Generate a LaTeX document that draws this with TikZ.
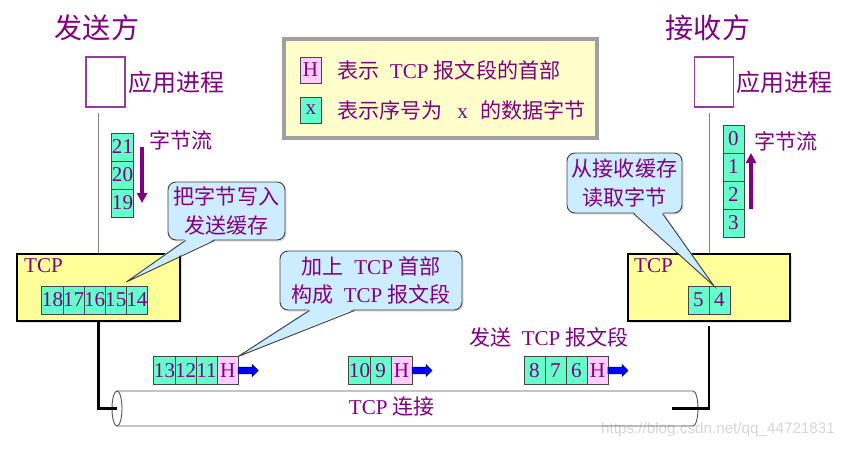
\documentclass[tikz,border=0pt]{standalone}
\usepackage{fontspec}
\setmainfont{Liberation Serif}
\newfontfamily\cjk{Noto Sans CJK SC}
\newfontfamily\wmfont{Liberation Sans}
\usepackage{tikz}
\usetikzlibrary{shapes, arrows.meta, positioning, calc, shadows}

\definecolor{txt}{RGB}{128,0,128}
\definecolor{cellfill}{RGB}{102,255,204}
\definecolor{hdrfill}{RGB}{255,204,255}
\definecolor{callfill}{RGB}{204,236,255}
\definecolor{tcpfill}{RGB}{255,255,153}
\definecolor{legfill}{RGB}{255,255,204}
\definecolor{legline}{RGB}{160,160,160}
\definecolor{cellline}{RGB}{70,70,70}
\definecolor{appline}{RGB}{150,60,150}
\definecolor{segblue}{RGB}{0,0,255}
\definecolor{segnavy}{RGB}{0,0,110}
\newcommand{\zh}[1]{{\cjk #1}}

\begin{document}
\begin{tikzpicture}[
    x=0.03cm, y=-0.03cm,  % <── one unit = one pixel of the layout, y downwards
    every node/.style={text=txt},
    cell_node/.style={draw=cellline, line width=0.8pt, fill=cellfill, minimum width=0.63cm,
        minimum height=0.84cm, inner sep=0pt, outer sep=0pt, font=\fontsize{18}{18}\selectfont},
    hdr_node/.style={cell_node, fill=hdrfill},
    app_node/.style={draw=appline, line width=0.9pt, fill=white, minimum width=1.17cm, minimum height=1.5cm},
    tcp_node/.style={draw=black, line width=1.7pt, fill=tcpfill, minimum height=2.01cm,
        drop shadow={shadow xshift=0.05cm, shadow yshift=-0.05cm, opacity=0.25}},
    call_node/.style={draw=black!75, line width=0.8pt, fill=callfill, rounded corners=0.24cm, align=center,
        font=\fontsize{18}{24}\selectfont,
        drop shadow={shadow xshift=0.05cm, shadow yshift=-0.05cm, opacity=0.25}},
    seg_arrow/.style={single arrow, draw=segnavy, line width=0.5pt, fill=segblue, minimum height=0.6cm,
        inner xsep=0pt, inner ysep=0.09cm, single arrow head extend=0.08cm, outer sep=0pt},
    title_text/.style={font=\cjk\fontsize{24}{24}\selectfont},
    label_text/.style={font=\cjk\fontsize{20.5}{20.5}\selectfont, inner sep=0pt},
    small_text/.style={font=\fontsize{18}{18}\selectfont},
    flow_arrow/.style={draw=txt, line width=3pt, -{Triangle[width=0.3cm, length=0.3cm]}},
    wire_line/.style={draw=black, line width=2.2pt},
    thin_line/.style={draw=black!50, line width=0.8pt},
    pipe_line/.style={draw=black!65, line width=0.8pt}
    ]
    \useasboundingbox (0,0) rectangle (848,450);

    % Legend
    \node[draw=legline, line width=2.8pt, fill=legfill, minimum width=9.39cm, minimum height=2.97cm] (legend) at (440.5,88.5) {};
    \node[hdr_node, minimum height=0.78cm] (lh) at (310.5,70) {H};
    \node[cell_node, minimum height=0.78cm] (lx) at (311,110) {x};
    \node[small_text, anchor=west, inner sep=0pt] (lhtxt) at (337,70) {\zh{表示}\hspace{0.5em}TCP \zh{报文段的首部}};
    \node[small_text, anchor=west, inner sep=0pt] (lxtxt) at (337,110) {\zh{表示序号为}\hspace{0.7em}x\hspace{0.6em}\zh{的数据字节}};

    % Sender
    \node[title_text] (stitle) at (97,28) {发送方};
    \node[app_node] (sapp) at (105.5,82) {};
    \node[label_text, right=0.08cm of sapp] (sappl) {应用进程};
    \node[cell_node] (b21) at (122.5,147) {21};
    \node[cell_node, below=0pt of b21] (b20) {20};
    \node[cell_node, below=0pt of b20] (b19) {19};
    \node[small_text, font=\cjk\fontsize{18}{18}\selectfont] (sflow) at (181,140) {字节流};
    \node[tcp_node, minimum width=4.89cm] (stcp) at (98.5,287.5) {};
    \node[small_text, anchor=north west, inner sep=0pt] (stcpl) at ([xshift=0.24cm, yshift=-0.17cm]stcp.north west) {TCP};
    \node[cell_node] (b18) at (52.5,300) {18};
    \node[cell_node, right=0pt of b18] (b17) {17};
    \node[cell_node, right=0pt of b17] (b16) {16};
    \node[cell_node, right=0pt of b16] (b15) {15};
    \node[cell_node, right=0pt of b15] (b14) {14};
    \node[call_node, minimum width=3.51cm, minimum height=1.74cm] (callw) at (226.5,211) {\zh{把字节写入}\\\zh{发送缓存}};

    % Segments on the way
    \node[cell_node] (s13) at (164.5,370.5) {13};
    \node[cell_node, right=0pt of s13] (s12) {12};
    \node[cell_node, right=0pt of s12] (s11) {11};
    \node[hdr_node, right=0pt of s11] (sh1) {H};
    \node[seg_arrow, right=0pt of sh1] (ar1) {};
    \node[cell_node] (s10) at (359.5,370.5) {10};
    \node[cell_node, right=0pt of s10] (s9) {9};
    \node[hdr_node, right=0pt of s9] (sh2) {H};
    \node[seg_arrow, right=0pt of sh2] (ar2) {};
    \node[cell_node] (s8) at (534.5,370.5) {8};
    \node[cell_node, right=0pt of s8] (s7) {7};
    \node[cell_node, right=0pt of s7] (s6) {6};
    \node[hdr_node, right=0pt of s6] (sh3) {H};
    \node[seg_arrow, right=0pt of sh3] (ar3) {};
    \node[small_text] (segl) at (549,337) {\zh{发送}\hspace{0.5em}TCP \zh{报文段}};
    \node[call_node, minimum width=5.46cm, minimum height=1.77cm] (callh) at (371,280.5)
        {\zh{加上}\hspace{0.5em}TCP \zh{首部}\\\zh{构成}\hspace{0.5em}TCP \zh{报文段}};
    \node[small_text] (pipel) at (392,407) {TCP \zh{连接}};

    % Receiver
    \node[title_text] (rtitle) at (708,28) {接收方};
    \node[app_node] (rapp) at (714,82) {};
    \node[label_text, right=0.08cm of rapp] (rappl) {应用进程};
    \node[cell_node] (b0) at (733.5,139) {0};
    \node[cell_node, below=0pt of b0] (b1) {1};
    \node[cell_node, below=0pt of b1] (b2) {2};
    \node[cell_node, below=0pt of b2] (b3) {3};
    \node[small_text, font=\cjk\fontsize{18}{18}\selectfont] (rflow) at (786,141) {字节流};
    \node[tcp_node, minimum width=4.86cm] (rtcp) at (709,287.5) {};
    \node[small_text, anchor=north west, inner sep=0pt] (rtcpl) at ([xshift=0.21cm, yshift=-0.17cm]rtcp.north west) {TCP};
    \node[cell_node] (b5) at (698.5,300) {5};
    \node[cell_node, right=0pt of b5] (b4) {4};
    \node[call_node, minimum width=3.45cm, minimum height=1.8cm] (callr) at (624.5,183) {\zh{从接收缓存}\\\zh{读取字节}};

    \node[text=black!16, font=\wmfont\fontsize{13}{13}\selectfont] (mark) at (718,430) {https://blog.csdn.net/qq\_44721831};

    % Callout pointers
    \coordinate (p1a) at ([xshift=0.54cm]callw.south west);
    \coordinate (p1b) at ([xshift=1.41cm]callw.south west);
    \coordinate (p1t) at ([yshift=0.12cm]b15.north east);
    \fill[callfill] ([yshift=0.05cm]p1a) -- (p1t) -- ([yshift=0.05cm]p1b) -- cycle;
    \draw[draw=black!75, line width=0.8pt] (p1a) -- (p1t) -- (p1b);
    \coordinate (p2a) at ([xshift=0.9cm]callh.south west);
    \coordinate (p2b) at ([xshift=2.25cm]callh.south west);
    \fill[callfill] ([yshift=0.05cm]p2a) -- (sh1.north east) -- ([yshift=0.05cm]p2b) -- cycle;
    \draw[draw=black!75, line width=0.8pt] (p2a) -- (sh1.north east) -- (p2b);
    \coordinate (p3a) at ([xshift=2.01cm]callr.south west);
    \coordinate (p3b) at ([xshift=2.88cm]callr.south west);
    \coordinate (p3t) at ([xshift=0.15cm]b4.north west);
    \fill[callfill] ([yshift=0.05cm]p3a) -- (p3t) -- ([yshift=0.05cm]p3b) -- cycle;
    \draw[draw=black!75, line width=0.8pt] (p3a) -- (p3t) -- (p3b);

    % Pipe
    \coordinate (pipeL) at (117,408.5);
    \coordinate (pipeR) at (693,408.5);
    \coordinate (rin) at (672,408.5);
    \draw[pipe_line] ([yshift=0.525cm]pipeL) -- ([yshift=0.525cm]pipeR)
        arc[start angle=90, end angle=-90, x radius=0.15cm, y radius=0.525cm] -- ([yshift=-0.525cm]pipeL);
    \draw[pipe_line] (pipeL) ellipse[x radius=0.15cm, y radius=0.525cm];

    % Arrows
    \coordinate (sgap) at ([yshift=-0.15cm]sapp.south);
    \coordinate (rgap) at ([yshift=-0.15cm]rapp.south);
    \draw[thin_line] (sgap -| stcp.north) -- (stcp.north);
    \draw[thin_line] (rgap -| rtcp.north) -- (rtcp.north);
    \draw[flow_arrow] ([xshift=0.27cm]b21.east) -- ([xshift=0.27cm]b19.east);
    \draw[flow_arrow] ([xshift=0.21cm]b2.south east) -- ([xshift=0.21cm]b1.north east);
    \draw[wire_line] (stcp.south) |- (pipeL);
    \draw[wire_line] ([yshift=-0.12cm]rtcp.south) |- (rin);
\end{tikzpicture}
\end{document}
